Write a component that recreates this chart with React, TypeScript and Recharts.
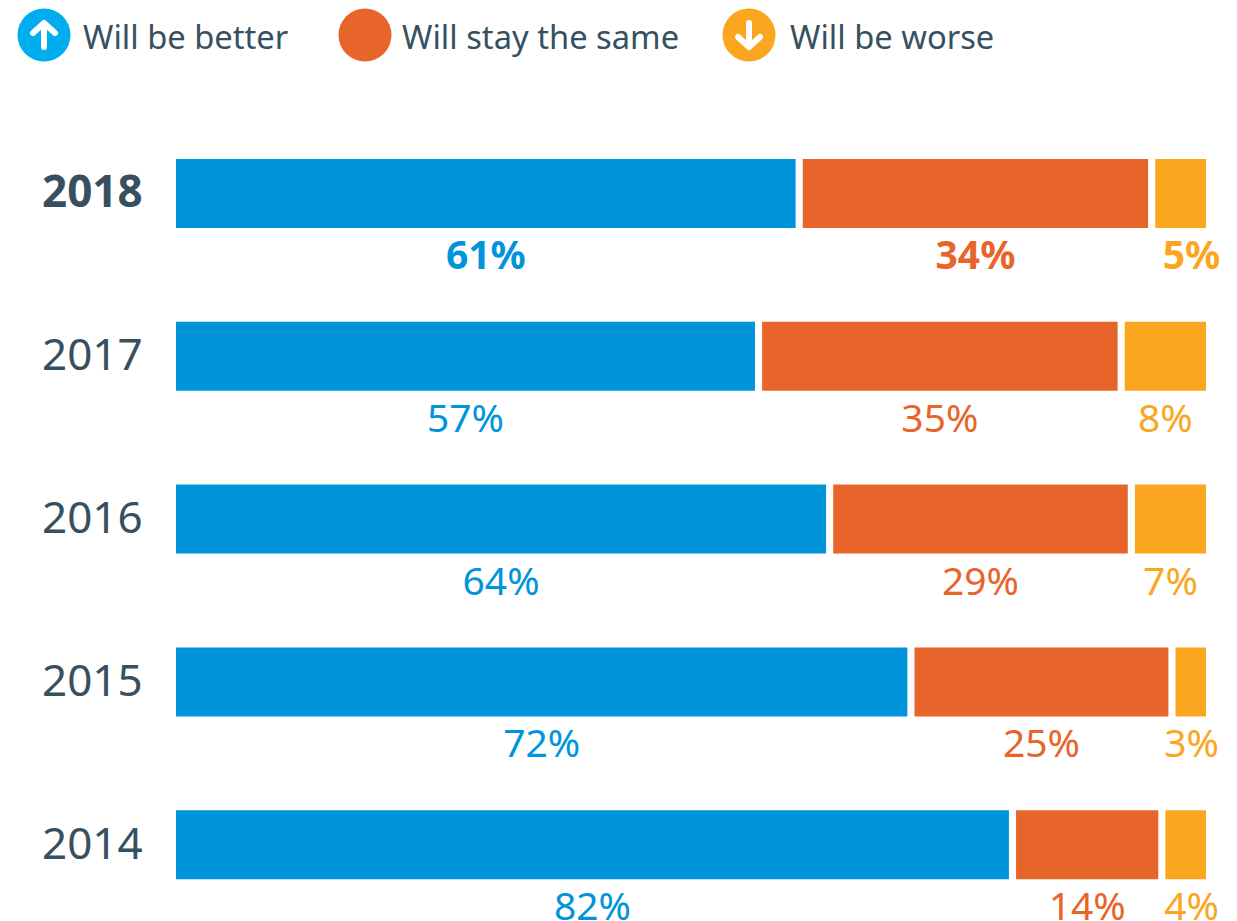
import React from "react";
import { BarChart, Bar, XAxis, YAxis, LabelList, Legend } from "recharts";

const years = ["2018", "2017", "2016", "2015", "2014"];
const better = [61, 57, 64, 72, 82];
const same = [34, 35, 29, 25, 14];
const worse = [5, 8, 7, 3, 4];
const spacer = 0.7;
const seriesNames = ["Will be better", "Will stay the same", "Will be worse"];

const BLUE = "#0095DB";
const ICON_BLUE = "#00AEEF";
const ORANGE = "#E7652A";
const YELLOW = "#FAA61F";
const INK = "#37505F";
const FONT = "'Noto Sans', sans-serif";

const data = years.map((year, i) => ({
  year,
  better: better[i],
  gapA: spacer,
  same: same[i],
  gapB: spacer,
  worse: worse[i],
}));

const makeLabel = (color: string, narrowCenter?: number) => (props: any) => {
  const { x, y, width, height, value, index } = props;
  const center = Number(x) + Number(width) / 2;
  const cx = narrowCenter !== undefined && Number(value) <= 5 ? narrowCenter : center;
  return (
    <text
      x={cx}
      y={Number(y) + Number(height) + 41}
      textAnchor="middle"
      fontFamily={FONT}
      fontSize={39}
      fontWeight={index === 0 ? 700 : 400}
      fill={color}
    >
      {value}%
    </text>
  );
};

const YearTick = (props: any) => {
  const { y, payload } = props;
  const bold = payload.value === years[0];
  return (
    <text
      x={42}
      y={y + 14}
      fontFamily={FONT}
      fontSize={44}
      fontWeight={bold ? 700 : 400}
      fill={INK}
    >
      {payload.value}
    </text>
  );
};

const Icon = ({ cx, color, dir }: { cx: number; color: string; dir: number }) => (
  <g>
    <circle cx={cx} cy={35} r={26.5} fill={color} />
    {dir !== 0 && (
      <path
        d={
          dir > 0
            ? `M${cx} 47 V24 M${cx - 11} 33 L${cx} 23 L${cx + 11} 33`
            : `M${cx} 23 V46 M${cx - 11} 37 L${cx} 47 L${cx + 11} 37`
        }
        stroke="#fff"
        strokeWidth={6}
        strokeLinecap="round"
        strokeLinejoin="round"
        fill="none"
      />
    )}
  </g>
);

const legendItems = [
  { cx: 44, tx: 83, color: ICON_BLUE, dir: 1 },
  { cx: 365, tx: 402, color: ORANGE, dir: 0 },
  { cx: 749, tx: 790, color: YELLOW, dir: -1 },
];

const LegendContent = () => (
  <svg width={1237} height={80} style={{ display: "block" }}>
    {legendItems.map((it, i) => (
      <g key={i}>
        <Icon cx={it.cx} color={it.color} dir={it.dir} />
        <text x={it.tx} y={49} fontFamily={FONT} fontSize={32.7} fill={INK}>
          {seriesNames[i]}
        </text>
      </g>
    ))}
  </svg>
);

export default function App() {
  return (
    <div style={{ position: "absolute", left: 0, top: 0, width: 1237, height: 921, overflow: "hidden", background: "#fff" }}>
      <BarChart
        width={1237}
        height={926}
        data={data}
        layout="vertical"
        margin={{ top: 32, right: 31, bottom: 0, left: 0 }}
        barCategoryGap={0}
      >
        <XAxis type="number" hide domain={[0, 100 + 2 * spacer]} />
        <YAxis type="category" dataKey="year" width={176} axisLine={false} tickLine={false} tick={<YearTick />} interval={0} />
        <Legend
          content={<LegendContent />}
          layout="horizontal"
          verticalAlign="top"
          align="left"
          wrapperStyle={{ left: 0, top: 0, width: 1237, height: 80 }}
        />
        <Bar dataKey="better" stackId="s" barSize={69} fill={BLUE} isAnimationActive={false} name={seriesNames[0]}>
          <LabelList dataKey="better" content={makeLabel(BLUE)} />
        </Bar>
        <Bar dataKey="gapA" stackId="s" barSize={69} fill="transparent" isAnimationActive={false} legendType="none" />
        <Bar dataKey="same" stackId="s" barSize={69} fill={ORANGE} isAnimationActive={false} name={seriesNames[1]}>
          <LabelList dataKey="same" content={makeLabel(ORANGE)} />
        </Bar>
        <Bar dataKey="gapB" stackId="s" barSize={69} fill="transparent" isAnimationActive={false} legendType="none" />
        <Bar dataKey="worse" stackId="s" barSize={69} fill={YELLOW} isAnimationActive={false} name={seriesNames[2]}>
          <LabelList dataKey="worse" content={makeLabel(YELLOW, 1191.5)} />
        </Bar>
      </BarChart>
    </div>
  );
}
